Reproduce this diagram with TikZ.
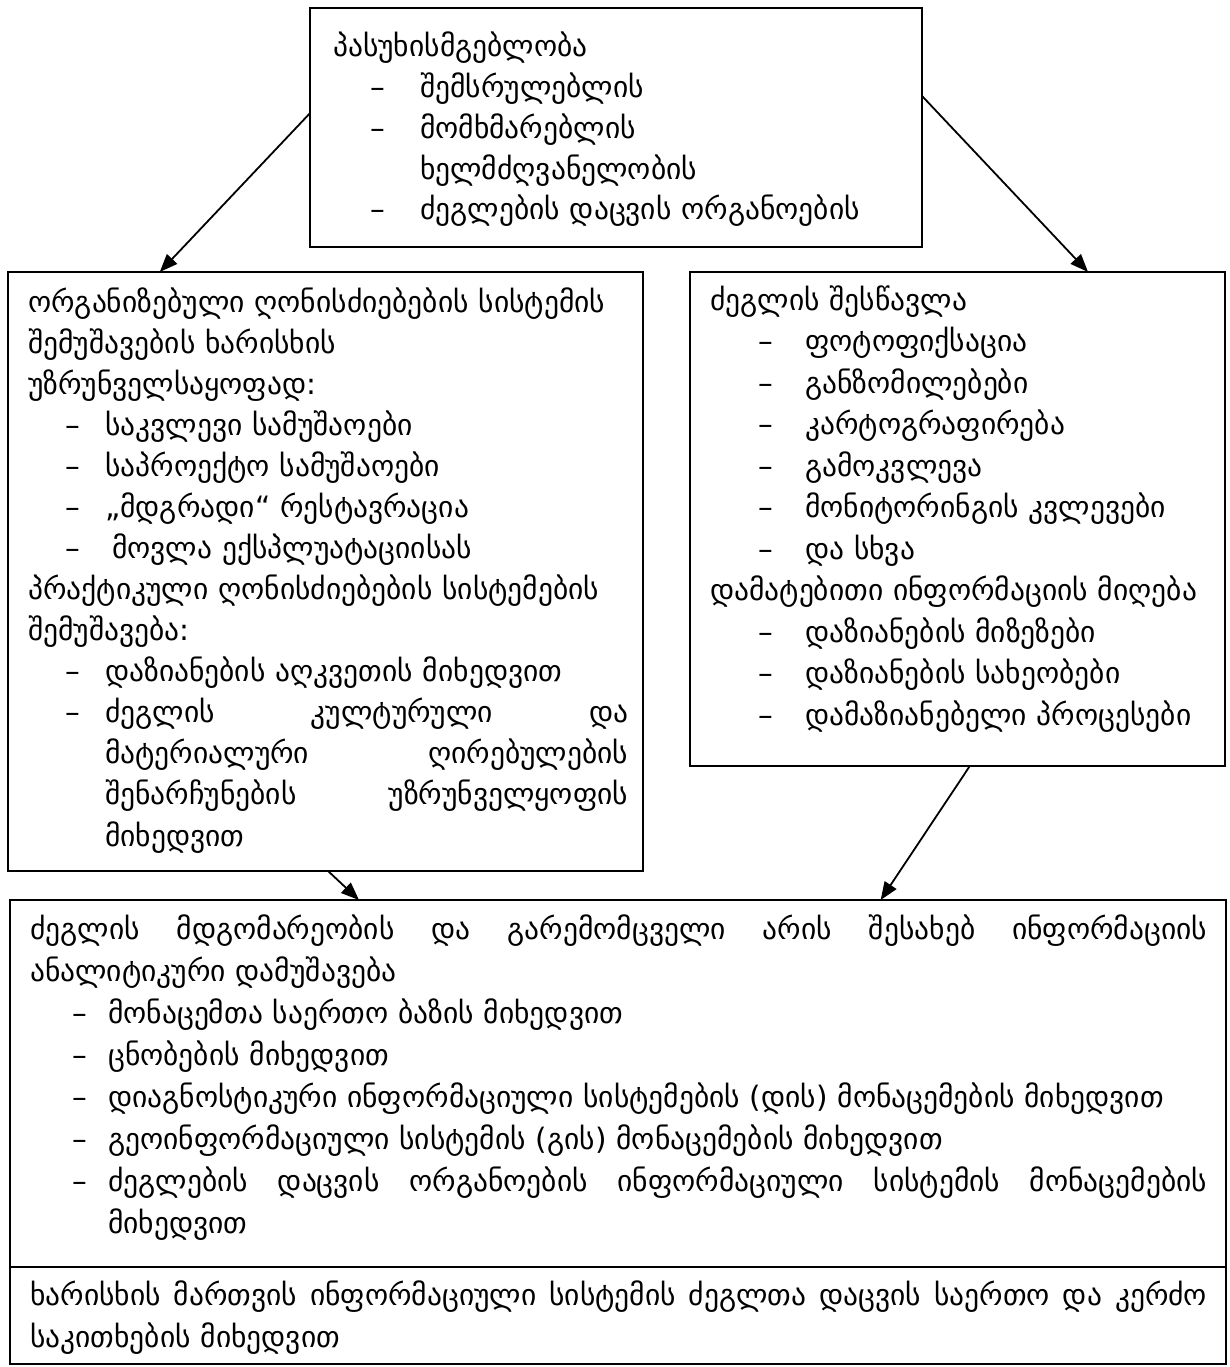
\documentclass[tikz,border=0pt]{standalone}
\usepackage{fontspec}
\setmainfont{DejaVu Sans}
\usetikzlibrary{arrows.meta,calc}
\newcommand\gitem[2]{\hspace*{#1}\makebox[#2][l]{–}}
\newcommand\gjust[2]{\hbox to #1{\spaceskip=7pt plus 1fil\relax #2}}
\begin{document}
\begin{tikzpicture}[x=1pt,y=-1pt,
  box/.style={draw, line width=1.5pt, inner sep=0pt, outer sep=0pt, anchor=north west},
  txt/.style={anchor=base west, align=left, inner sep=0pt, text width=1190pt},
  arr/.style={line width=1.8pt, -{Triangle[length=18pt,width=14pt]}}]
\useasboundingbox (0,0) rectangle (1230,1367);
\fill[white] (0,0) rectangle (1230,1367);
% boxes
\node[box, minimum width=612pt, minimum height=239pt] (top) at (310,8) {};
\node[box, minimum width=635pt, minimum height=599pt] (lft) at (8,272) {};
\node[box, minimum width=535pt, minimum height=494pt] (rgt) at (690,272) {};
\node[box, minimum width=1216pt, minimum height=367pt] (bot) at (10,900) {};
\node[box, minimum width=1216pt, minimum height=97pt] (bott) at (10,1267) {};
% texts
\node[txt, font=\fontsize{29.5}{40.75}\selectfont] (ttop) at (333,57) {%
პასუხისმგებლობა\\
\gitem{37pt}{50pt}შემსრულებლის\\
\gitem{37pt}{50pt}მომხმარებლის\\
\hspace*{87pt}ხელმძღვანელობის\\
\gitem{37pt}{50pt}ძეგლების დაცვის ორგანოების};
\node[txt, font=\fontsize{29.5}{41.08}\selectfont] (tlft) at (28,312) {%
ორგანიზებული ღონისძიებების სისტემის\\
შემუშავების ხარისხის\\
უზრუნველსაყოფად:\\
\gitem{37pt}{40pt}საკვლევი სამუშაოები\\
\gitem{37pt}{40pt}საპროექტო სამუშაოები\\
\gitem{37pt}{40pt}„მდგრადი“ რესტავრაცია\\
\gitem{37pt}{47pt}მოვლა ექსპლუატაციისას\\
პრაქტიკული ღონისძიებების სისტემების\\
შემუშავება:\\
\gitem{37pt}{40pt}დაზიანების აღკვეთის მიხედვით\\
\gitem{37pt}{40pt}\gjust{523pt}{ძეგლის კულტურული და}\\
\hspace*{77pt}\gjust{523pt}{მატერიალური ღირებულების}\\
\hspace*{77pt}\gjust{523pt}{შენარჩუნების უზრუნველყოფის}\\
\hspace*{77pt}მიხედვით};
\node[txt, font=\fontsize{29.5}{41.5}\selectfont] (trgt) at (710,310) {%
ძეგლის შესწავლა\\
\gitem{48pt}{47pt}ფოტოფიქსაცია\\
\gitem{48pt}{47pt}განზომილებები\\
\gitem{48pt}{47pt}კარტოგრაფირება\\
\gitem{48pt}{47pt}გამოკვლევა\\
\gitem{48pt}{47pt}მონიტორინგის კვლევები\\
\gitem{48pt}{47pt}და სხვა\\
დამატებითი ინფორმაციის მიღება\\
\gitem{48pt}{47pt}დაზიანების მიზეზები\\
\gitem{48pt}{47pt}დაზიანების სახეობები\\
\gitem{48pt}{47pt}დამაზიანებელი პროცესები};
\node[txt, font=\fontsize{29.5}{42}\selectfont] (tbot) at (30,939) {%
\gjust{1177pt}{ძეგლის მდგომარეობის და გარემომცველი არის შესახებ ინფორმაციის}\\
ანალიტიკური დამუშავება\\
\gitem{42pt}{36pt}მონაცემთა საერთო ბაზის მიხედვით\\
\gitem{42pt}{36pt}ცნობების მიხედვით\\
\gitem{42pt}{36pt}დიაგნოსტიკური ინფორმაციული სისტემების (დის) მონაცემების მიხედვით\\
\gitem{42pt}{36pt}გეოინფორმაციული სისტემის (გის) მონაცემების მიხედვით\\
\gitem{42pt}{36pt}\gjust{1099pt}{ძეგლების დაცვის ორგანოების ინფორმაციული სისტემის მონაცემების}\\
\hspace*{78pt}მიხედვით};
\node[txt, font=\fontsize{29.5}{42}\selectfont] (tbott) at (30,1305) {%
\gjust{1177pt}{ხარისხის მართვის ინფორმაციული სისტემის ძეგლთა დაცვის საერთო და კერძო}\\
საკითხების მიხედვით};
% connectors
\draw[arr] ($(top.north west)!0.44!(top.south west)$) -- ($(lft.north west)!0.239!(lft.north east)$);
\draw[arr] ($(top.north east)!0.368!(top.south east)$) -- ($(rgt.north west)!0.744!(rgt.north east)$);
\draw[arr] ($(lft.south west)!0.504!(lft.south east)$) -- ($(bot.north west)!0.287!(bot.north east)$);
\draw[arr] ($(rgt.south west)!0.523!(rgt.south east)$) -- ($(bot.north west)!0.716!(bot.north east)$);
\end{tikzpicture}
\end{document}
